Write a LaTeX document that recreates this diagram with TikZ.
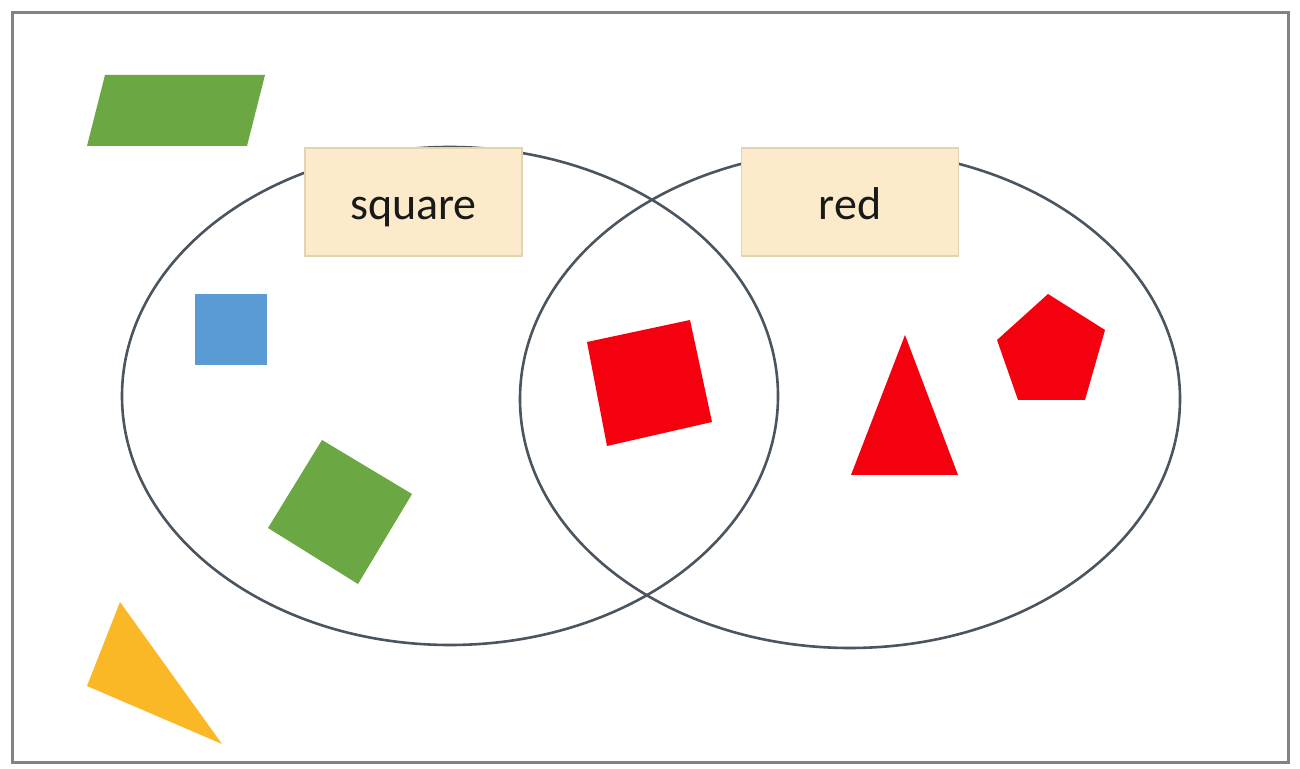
\documentclass[tikz,border=0pt]{standalone}
\usepackage{fontspec}
\setmainfont{Carlito}
\definecolor{framegray}{HTML}{7F8488}
\definecolor{ringcol}{HTML}{4A5560}
\definecolor{labfill}{HTML}{FCEBCB}
\definecolor{labedge}{HTML}{E3D3B3}
\definecolor{shgreen}{HTML}{6BA844}
\definecolor{shblue}{HTML}{5B9BD5}
\definecolor{shorange}{HTML}{FBB826}
\definecolor{shred}{HTML}{F5000F}
\tikzset{
  ring/.style={draw=ringcol, line width=1.3pt},
  setlabel/.style={draw=labedge, fill=labfill, line width=0.8pt, minimum width=108.5pt, minimum height=54pt, inner sep=0pt, text height=18pt, text depth=0pt, font=\fontsize{23}{27}\selectfont, text=black!90}
}
\begin{document}
\begin{tikzpicture}[x=0.5pt,y=-0.5pt]
\useasboundingbox (0,0) rectangle (1300,769);
\fill[white] (0,0) rectangle (1300,769);
\draw[framegray, line width=1.5pt] (12,13) rectangle (1288,762);
% sets
\draw[ring] (450,396) ellipse [x radius=328, y radius=249];
\draw[ring] (850,399) ellipse [x radius=330, y radius=249];
\node[setlabel] (lsq) at (413.5,202) {square};
\node[setlabel] (lred) at (850,202) {red};
% shapes outside
\fill[shgreen] (105,75) -- (265,75) -- (247,146) -- (87,146) -- cycle;
\fill[shorange] (120,602) -- (222,744) -- (87,686) -- cycle;
% squares
\fill[shblue] (195,294) rectangle (267,365);
\fill[shgreen] (322,440) -- (412,494) -- (358,584) -- (268,528) -- cycle;
% intersection
\fill[shred] (587,342) -- (690,320) -- (712,422) -- (607,446) -- cycle;
% red only
\fill[shred] (905,335) -- (958,475) -- (851,475) -- cycle;
\fill[shred] (1048,294) -- (1105,330) -- (1085,400) -- (1018,400) -- (997,340) -- cycle;
\end{tikzpicture}
\end{document}
